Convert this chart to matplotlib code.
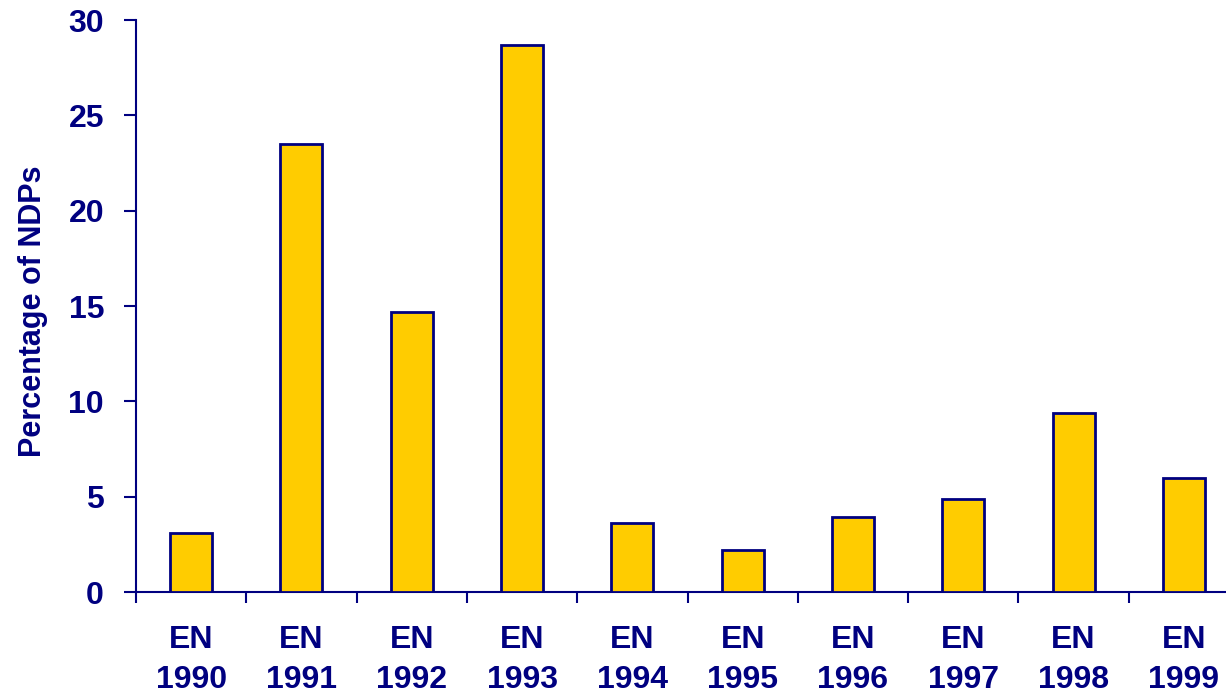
import matplotlib
matplotlib.use('Agg')
import matplotlib.pyplot as plt
import numpy as np

# Share of NDPs per El Nino year
years = ['1990', '1991', '1992', '1993', '1994', '1995', '1996', '1997', '1998', '1999']
labels = ['EN\n%s' % y for y in years]
pct_ndps = [3.1, 23.5, 14.7, 28.7, 3.6, 2.2, 3.95, 4.9, 9.4, 6.0]

navy = '#000080'
plt.rcParams['font.family'] = ['Liberation Sans', 'DejaVu Sans']
plt.rcParams['font.weight'] = 'bold'

fig = plt.figure(figsize=(12.26, 6.93), dpi=100)
ax = fig.add_axes([136 / 1226, 101 / 693, 1103 / 1226, 572 / 693])

x = np.arange(len(years))
ax.bar(x, pct_ndps, width=0.38, color='#FFCC00', edgecolor=navy, linewidth=2, zorder=3)

ax.set_xlim(-0.5, len(years) - 0.5)
ax.set_ylim(0, 30)
ax.set_yticks(range(0, 31, 5))
ax.set_xticks(x)
ax.set_xticklabels(labels, linespacing=1.4)
ax.set_xticks(np.arange(len(years) + 1) - 0.5, minor=True)

for side in ['top', 'right']:
    ax.spines[side].set_visible(False)
for side in ['left', 'bottom']:
    ax.spines[side].set_color(navy)
    ax.spines[side].set_linewidth(1.5)

ax.tick_params(axis='y', direction='out', length=9, width=1.5, color=navy,
               labelcolor=navy, labelsize=23, pad=14)
ax.tick_params(axis='x', which='major', length=0, labelcolor=navy, labelsize=23, pad=24)
ax.tick_params(axis='x', which='minor', direction='out', length=8, width=1.5, color=navy)

ax.set_ylabel('Percentage of NDPs', color=navy, fontsize=22, fontweight='bold')
ax.yaxis.set_label_coords(-0.08, 0.49)

fig.savefig('out.png', dpi=100)
